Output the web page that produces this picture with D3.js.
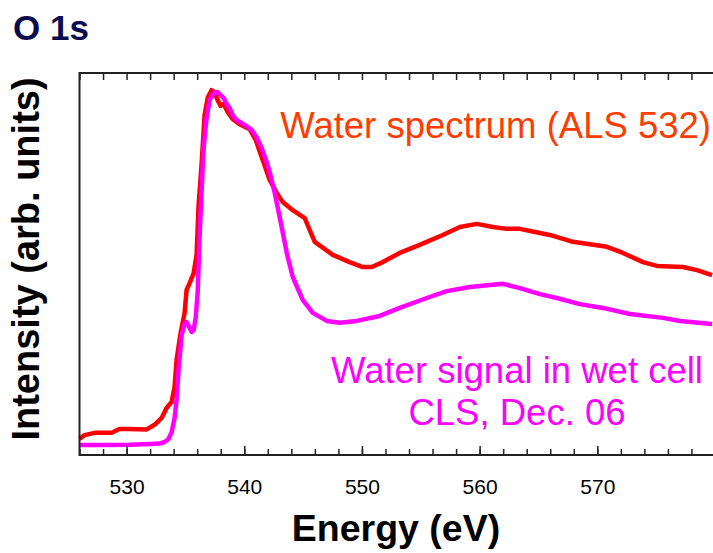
<!DOCTYPE html>
<html>
<head>
<meta charset="utf-8">
<script src="https://cdn.jsdelivr.net/npm/d3@7"></script>
<style>
  body { margin: 0; background: #fff; }
  text { font-family: "Liberation Sans", Arial, sans-serif; }
</style>
</head>
<body>
<svg width="713" height="553"></svg>
<script>
// ALS reference water spectrum (red)
var alsEnergy = [526.0, 526.43, 527.28, 528.72, 529.4, 530.26, 531.7, 532.38, 532.98, 533.4, 533.83,
  534.08, 534.25, 534.59, 534.93, 535.1, 535.36, 535.7, 535.95, 536.12, 536.37, 536.63, 536.89,
  537.22, 537.48, 537.74, 537.99, 538.25, 538.59, 539.01, 539.61, 540.46, 540.97, 541.48, 542.16,
  542.76, 543.27, 544.12, 545.14, 545.56, 545.99, 547.52, 548.96, 550.07, 550.83, 551.77, 553.21,
  554.91, 556.87, 558.32, 559.76, 561.12, 562.31, 563.42, 565.12, 565.97, 567.93, 570.82, 572.18,
  573.88, 575.07, 577.28, 578.47, 579.75];
var alsIntensity = [4.2, 5.2, 5.8, 5.8, 6.8, 6.8, 6.7, 7.9, 9.7, 12.3, 13.9,
  17.8, 24.9, 31.9, 37.2, 43.2, 45.0, 47.6, 52.4, 65.4, 75.9, 89.0, 93.5,
  95.5, 95.0, 92.9, 91.4, 91.9, 89.8, 88.0, 86.6, 85.3, 82.5, 78.0, 72.0,
  68.6, 66.2, 64.1, 62.0, 58.9, 55.8, 52.4, 50.5, 49.2, 49.2, 50.5, 52.9,
  55.0, 57.6, 59.7, 60.5, 59.7, 59.2, 59.2, 58.1, 57.6, 55.8, 54.5, 52.9,
  50.5, 49.5, 49.2, 48.4, 47.1];

// wet cell signal, CLS Dec. 06 (magenta)
var wetEnergy = [526.0, 527.7, 530.26, 531.96, 532.81, 533.23, 533.57, 533.83, 534.08, 534.25, 534.42,
  534.68, 534.93, 535.1, 535.27, 535.53, 535.7, 535.87, 536.04, 536.21, 536.38, 536.55, 536.8,
  537.06, 537.4, 537.74, 537.99, 538.25, 538.5, 538.76, 539.01, 539.35, 540.03, 540.63, 541.05,
  541.48, 541.9, 542.16, 542.59, 543.18, 543.61, 544.12, 544.97, 545.82, 547.01, 548.11, 549.56,
  551.51, 553.21, 555.51, 557.21, 559.17, 561.97, 563.42, 565.12, 566.56, 568.52, 570.48, 572.77,
  575.58, 577.02, 579.75];
var wetIntensity = [2.6, 2.6, 2.7, 2.9, 3.0, 3.4, 4.2, 6.0, 9.7, 14.4, 22.3,
  31.4, 34.3, 34.8, 33.8, 32.2, 32.7, 35.9, 42.4, 57.6, 69.4, 80.4, 88.2,
  92.9, 94.8, 95.0, 94.2, 93.5, 91.9, 90.8, 89.0, 87.7, 86.4, 85.1, 83.2,
  80.4, 76.7, 74.1, 68.6, 59.7, 52.9, 46.6, 40.6, 37.2, 35.1, 34.6, 35.1,
  36.4, 38.5, 41.1, 42.9, 44.0, 44.8, 43.7, 42.1, 41.1, 39.5, 38.5, 36.9,
  35.9, 35.1, 34.3];

var majorTicks = [530, 540, 550, 560, 570];
var minorTicks = d3.range(526, 581, 2);

var svg = d3.select("svg");

// note: "top" is taken by window.top, so use other names
var plotLeft = 79.5, plotRight = 715, plotTop = 73, plotBottom = 455;

var x = d3.scaleLinear().domain([526, 580]).range([plotLeft, plotRight]);
var y = d3.scaleLinear().domain([0, 100]).range([plotBottom, plotTop]);

var toPoints = function(es, is) {
  return es.map(function(e, i) { return [e, is[i]]; });
};

var line = d3.line()
  .x(function(d) { return x(d[0]); })
  .y(function(d) { return y(d[1]); });

svg.append("path")
  .datum(toPoints(alsEnergy, alsIntensity))
  .attr("d", line)
  .attr("fill", "none")
  .attr("stroke", "#ff0000")
  .attr("stroke-width", 4.5)
  .attr("stroke-linejoin", "round");

svg.append("path")
  .datum(toPoints(wetEnergy, wetIntensity))
  .attr("d", line)
  .attr("fill", "none")
  .attr("stroke", "#ff00ff")
  .attr("stroke-width", 4.5)
  .attr("stroke-linejoin", "round");

// frame
svg.append("rect")
  .attr("x", plotLeft).attr("y", plotTop)
  .attr("width", plotRight - plotLeft).attr("height", plotBottom - plotTop)
  .attr("fill", "none")
  .attr("stroke", "#222")
  .attr("stroke-width", 2);

// ticks point inward, bottom and top
var bottomAxis = d3.axisBottom(x).tickValues(minorTicks).tickSize(-6).tickFormat("");
svg.append("g").attr("transform", "translate(0," + plotBottom + ")").call(bottomAxis);
var bottomMajor = d3.axisBottom(x).tickValues(majorTicks).tickSize(-9).tickPadding(24)
  .tickFormat(d3.format("d"));
svg.append("g").attr("class", "major").attr("transform", "translate(0," + plotBottom + ")").call(bottomMajor);

var topAxis = d3.axisTop(x).tickValues(minorTicks).tickSize(-7).tickFormat("");
svg.append("g").attr("transform", "translate(0," + plotTop + ")").call(topAxis);

svg.selectAll(".domain").remove();
svg.selectAll(".tick line").attr("stroke", "#222").attr("stroke-width", 1.5);
svg.selectAll(".major text")
  .attr("font-family", "Liberation Sans, Arial, sans-serif")
  .attr("font-size", 21)
  .attr("fill", "#000");

// titles
svg.append("text")
  .attr("x", 13).attr("y", 40)
  .attr("font-size", 35).attr("font-weight", "bold")
  .attr("fill", "#0b0b4f")
  .text("O 1s");

svg.append("text")
  .attr("x", 396).attr("y", 541)
  .attr("text-anchor", "middle")
  .attr("font-size", 37.5).attr("font-weight", "bold")
  .text("Energy (eV)");

svg.append("text")
  .attr("transform", "translate(39,259) rotate(-90)")
  .attr("text-anchor", "middle")
  .attr("font-size", 38).attr("font-weight", "bold")
  .text("Intensity (arb. units)");

// annotations
svg.append("text")
  .attr("x", 711).attr("y", 138)
  .attr("text-anchor", "end")
  .attr("font-size", 36.5)
  .attr("fill", "#ff3c00")
  .text("Water spectrum (ALS 532)");

svg.append("text")
  .attr("x", 517).attr("y", 383)
  .attr("text-anchor", "middle")
  .attr("font-size", 36.5)
  .attr("fill", "#ff00ff")
  .text("Water signal in wet cell");

svg.append("text")
  .attr("x", 517).attr("y", 425)
  .attr("text-anchor", "middle")
  .attr("font-size", 36.5)
  .attr("fill", "#ff00ff")
  .text("CLS, Dec. 06");
</script>
</body>
</html>
